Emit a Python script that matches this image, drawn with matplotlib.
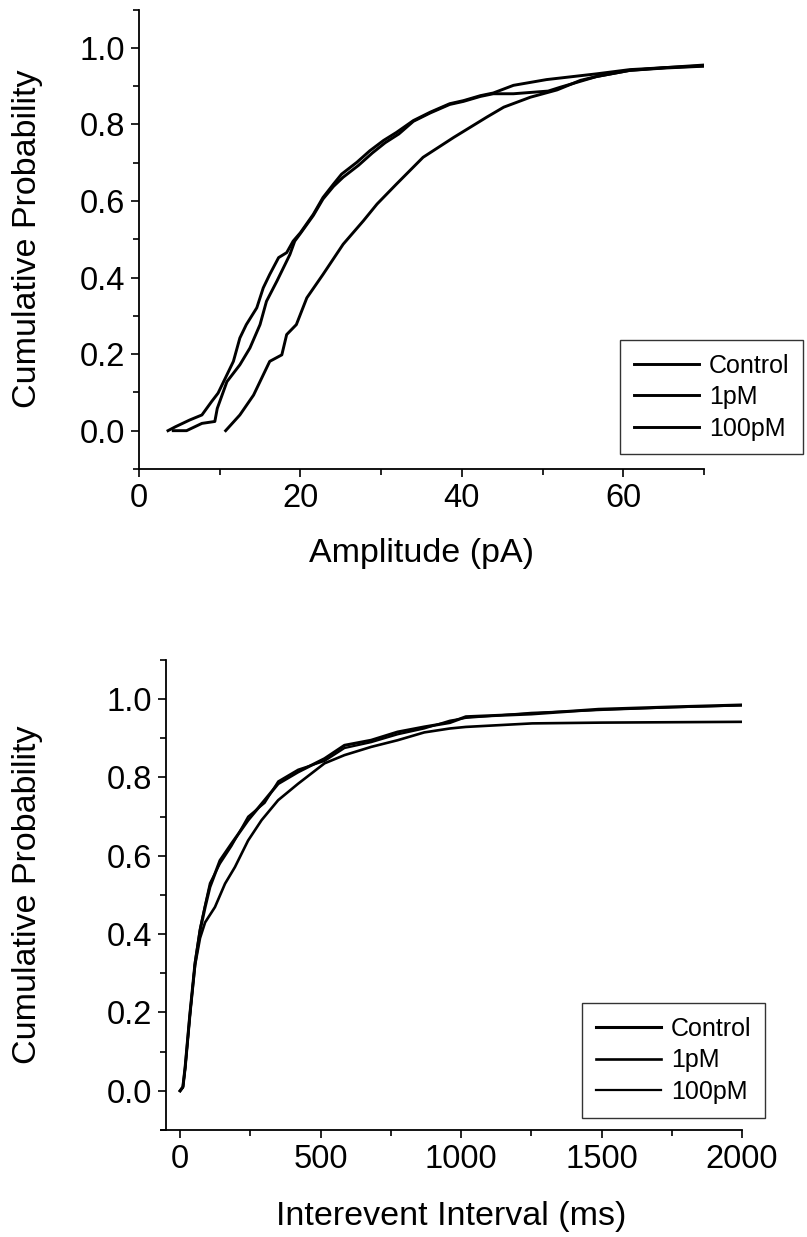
import matplotlib
matplotlib.use("Agg")
import matplotlib.pyplot as plt
from matplotlib.ticker import MultipleLocator, FormatStrFormatter

plt.rcParams['font.family'] = ['Liberation Sans', 'DejaVu Sans']

labels = ["Control", "1pM", "100pM"]

# --- amplitude cumulative distributions (top panel) ---
amp_ctrl_x = [3.6, 4.5, 6.3, 7.8, 9.0, 9.8, 10.9, 11.7, 12.5, 13.3, 14.6, 15.4, 16.2, 17.3, 18.3,
              19.1, 20.0, 21.6, 22.8, 24.1, 25.1, 27.0, 28.6, 30.3, 31.9, 34.0, 36.1, 38.5, 40.2,
              42.3, 43.9, 46.4, 50.5, 56.7, 60.8, 65.0, 70.0]
amp_ctrl_y = [0.0, 0.01, 0.028, 0.041, 0.076, 0.098, 0.146, 0.181, 0.242, 0.277, 0.321, 0.373, 0.408,
              0.452, 0.465, 0.495, 0.517, 0.565, 0.609, 0.644, 0.670, 0.701, 0.731, 0.758, 0.779,
              0.810, 0.832, 0.854, 0.862, 0.875, 0.882, 0.902, 0.917, 0.932, 0.943, 0.948, 0.955]

amp_1pm_x = [4.25, 5.9, 7.8, 9.4, 9.7, 10.9, 12.5, 13.75, 15.0, 15.8, 17.1, 18.7, 19.3, 20.0, 21.6,
             22.8, 24.1, 25.3, 27.2, 28.9, 30.5, 32.2, 34.0, 36.1, 38.5, 40.2, 42.3, 43.9, 46.4,
             50.7, 52.2, 56.7, 60.8, 65.0, 70.0]
amp_1pm_y = [0.0, 0.0, 0.019, 0.024, 0.058, 0.128, 0.172, 0.216, 0.277, 0.338, 0.391, 0.460, 0.495,
             0.515, 0.562, 0.605, 0.638, 0.662, 0.693, 0.725, 0.752, 0.775, 0.808, 0.830, 0.852,
             0.860, 0.873, 0.880, 0.880, 0.887, 0.897, 0.925, 0.941, 0.948, 0.953]

amp_100pm_x = [10.74, 12.5, 14.2, 16.2, 17.7, 18.3, 19.5, 20.8, 22.8, 25.3, 27.8, 29.5, 31.9, 35.2,
               39.0, 43.1, 45.2, 48.5, 51.8, 54.7, 56.7, 60.8, 65.0, 70.0]
amp_100pm_y = [0.0, 0.041, 0.093, 0.181, 0.198, 0.251, 0.277, 0.347, 0.408, 0.487, 0.548, 0.592,
               0.644, 0.714, 0.766, 0.819, 0.845, 0.871, 0.890, 0.915, 0.925, 0.941, 0.947, 0.952]

# --- interevent interval cumulative distributions (bottom panel) ---
iei_ctrl_x = [0, 10, 18, 35, 53, 71, 89, 106, 142, 183, 242, 301, 349, 420, 514, 585, 680, 774,
              869, 960, 1017, 1250, 1489, 1750, 2000]
iei_ctrl_y = [0.0, 0.01, 0.06, 0.196, 0.324, 0.409, 0.469, 0.52, 0.588, 0.631, 0.691, 0.742, 0.784,
              0.814, 0.848, 0.882, 0.895, 0.916, 0.929, 0.94, 0.955, 0.962, 0.974, 0.98, 0.985]

iei_1pm_x = [0, 10, 18, 35, 53, 71, 89, 124, 160, 195, 242, 290, 349, 420, 514, 585, 680, 774,
             869, 960, 1017, 1253, 1500, 2000]
iei_1pm_y = [0.0, 0.01, 0.06, 0.196, 0.32, 0.39, 0.43, 0.469, 0.529, 0.571, 0.639, 0.691, 0.742,
             0.784, 0.836, 0.857, 0.878, 0.895, 0.915, 0.925, 0.929, 0.938, 0.94, 0.942]

iei_100pm_x = [0, 10, 18, 35, 53, 71, 89, 106, 142, 183, 242, 301, 349, 420, 514, 585, 680, 774,
               869, 960, 1017, 1250, 1489, 1750, 2000]
iei_100pm_y = [0.0, 0.008, 0.055, 0.19, 0.33, 0.415, 0.475, 0.53, 0.58, 0.625, 0.70, 0.735, 0.79,
               0.82, 0.842, 0.875, 0.89, 0.91, 0.925, 0.945, 0.952, 0.965, 0.972, 0.979, 0.984]

TICK_FS = 23.5
LABEL_FS = 24.5
LEG_FS = 18


def style_axes(ax, xmajor, xminor):
    ax.spines['top'].set_visible(False)
    ax.spines['right'].set_visible(False)
    for s in ('left', 'bottom'):
        ax.spines[s].set_linewidth(1.3)
    ax.set_ylim(-0.1, 1.1)
    ax.yaxis.set_major_locator(MultipleLocator(0.2))
    ax.yaxis.set_minor_locator(MultipleLocator(0.1))
    ax.yaxis.set_major_formatter(FormatStrFormatter('%.1f'))
    ax.xaxis.set_major_locator(MultipleLocator(xmajor))
    ax.xaxis.set_minor_locator(MultipleLocator(xminor))
    ax.tick_params(which='major', direction='out', length=6, width=1.2, labelsize=TICK_FS, pad=4)
    ax.tick_params(which='minor', direction='out', length=4, width=1.2)


def add_legend(ax, x_px, y_px):
    leg = fig.legend(*ax.get_legend_handles_labels(), loc='upper left',
                     bbox_to_anchor=(x_px / 807, 1 - y_px / 1237), bbox_transform=fig.transFigure,
                     fontsize=LEG_FS, frameon=True, fancybox=False, edgecolor='black',
                     handlelength=2.6, handletextpad=0.4, labelspacing=0.3, borderpad=0.55,
                     borderaxespad=0)
    leg.get_frame().set_linewidth(1.0)


fig = plt.figure(figsize=(8.07, 12.37), dpi=100)

# top panel
ax1 = fig.add_axes([0.1722, 0.6209, 0.7001, 0.3714])
ax1.plot(amp_ctrl_x, amp_ctrl_y, color='black', lw=2.1, label=labels[0])
ax1.plot(amp_1pm_x, amp_1pm_y, color='black', lw=2.1, label=labels[1])
ax1.plot(amp_100pm_x, amp_100pm_y, color='black', lw=2.1, label=labels[2])
ax1.set_xlim(0, 70)
style_axes(ax1, 20, 10)
ax1.set_xlabel("Amplitude (pA)", fontsize=LABEL_FS)
ax1.set_ylabel("Cumulative Probability", fontsize=LABEL_FS)
ax1.xaxis.set_label_coords(0.5, -0.15)
ax1.yaxis.set_label_coords(-0.17, 0.5)
add_legend(ax1, 620, 340)

# bottom panel
ax2 = fig.add_axes([0.1995, 0.0865, 0.72, 0.38])
ax2.plot(iei_ctrl_x, iei_ctrl_y, color='black', lw=2.2, label=labels[0])
ax2.plot(iei_1pm_x, iei_1pm_y, color='black', lw=1.9, label=labels[1])
ax2.plot(iei_100pm_x, iei_100pm_y, color='black', lw=1.6, label=labels[2])
ax2.set_xlim(-68, 2000)
ax2.spines['left'].set_position(('data', -50))
style_axes(ax2, 500, 250)
ax2.set_xlabel("Interevent Interval (ms)", fontsize=LABEL_FS)
ax2.set_ylabel("Cumulative Probability", fontsize=LABEL_FS)
ax2.xaxis.set_label_coords(0.5, -0.15)
ax2.yaxis.set_label_coords(-0.203, 0.5)
add_legend(ax2, 582, 1003)

fig.savefig("out.png", dpi=100)
